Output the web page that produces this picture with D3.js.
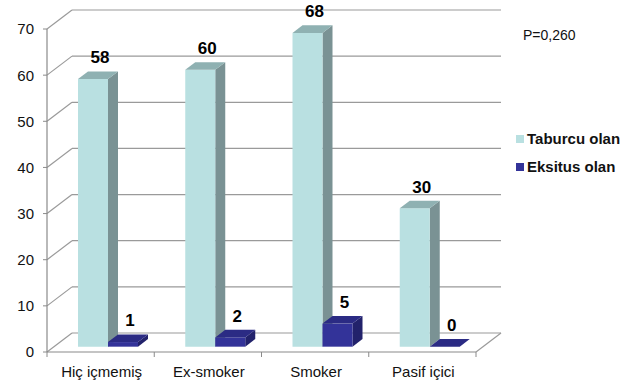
<!DOCTYPE html>
<html>
<head>
<meta charset="utf-8">
<script src="https://cdn.jsdelivr.net/npm/d3@7/dist/d3.min.js"></script>
<style>
  body { margin: 0; background: #fff; }
  svg { display: block; font-family: "Liberation Sans", Arial, sans-serif; }
</style>
</head>
<body>
<script>
const categories = ["Hiç içmemiş", "Ex-smoker", "Smoker", "Pasif içici"];
const taburcu = [58, 60, 68, 30];
const eksitus = [1, 2, 5, 0];
const seriesNames = ["Taburcu olan", "Eksitus olan"];
const yTicks = [0, 10, 20, 30, 40, 50, 60, 70];
const pText = "P=0,260";

const W = 621, H = 381;
const svg = d3.select("body").append("svg").attr("width", W).attr("height", H);

// front plane scales, depth goes back by (dx, dy)
const xScale = d3.scaleBand().domain(categories).range([47, 476]);
const yScale = d3.scaleLinear().domain([0, 70]).range([352, 29]);
const depthX = 25, depthY = -19;
const d0 = 0.28, d1 = 0.68; // bar depth span
const barW = 30, barOff = 24;

const P = (x, y, d) => [x + d * depthX, y + d * depthY];
const poly = pts => pts.map(p => p.join(",")).join(" ");

const grid = "#9a9a9a";

// back wall gridlines
svg.selectAll("line.grid").data(yTicks).enter().append("line")
  .attr("x1", d => P(47, yScale(d), 1)[0])
  .attr("x2", d => P(476, yScale(d), 1)[0])
  .attr("y1", d => P(47, yScale(d), 1)[1])
  .attr("y2", d => P(476, yScale(d), 1)[1])
  .style("stroke", grid).style("stroke-width", 1.2);

// side wall diagonals
svg.selectAll("line.diag").data(yTicks).enter().append("line")
  .attr("x1", 47).attr("y1", d => yScale(d))
  .attr("x2", d => P(47, yScale(d), 1)[0])
  .attr("y2", d => P(47, yScale(d), 1)[1])
  .style("stroke", grid).style("stroke-width", 1.2);

// floor right edge
svg.append("line")
  .attr("x1", 476).attr("y1", yScale(0))
  .attr("x2", P(476, yScale(0), 1)[0]).attr("y2", P(476, yScale(0), 1)[1])
  .style("stroke", grid).style("stroke-width", 1.2);

// bars
const colors = [
  { front: "#b9e0e1", side: "#7a9294", top: "#8fb1b2" },
  { front: "#333399", side: "#22226b", top: "#2b2b84" }
];

function drawBar(x0, v, c) {
  const yb = yScale(0), yt = yScale(v);
  const x1 = x0 + barW;
  const ft = P(x0, yt, d0);
  const g = svg.append("g");
  // side
  g.append("polygon").attr("points", poly([
    P(x1, yb, d0), P(x1, yt, d0), P(x1, yt, d1), P(x1, yb, d1)
  ])).style("fill", c.side);
  // front
  g.append("polygon").attr("points", poly([
    P(x0, yb, d0), P(x1, yb, d0), P(x1, yt, d0), P(x0, yt, d0)
  ])).style("fill", c.front);
  // top
  g.append("polygon").attr("points", poly([
    P(x0, yt, d0), P(x1, yt, d0), P(x1, yt, d1), P(x0, yt, d1)
  ])).style("fill", c.top);
  // value label
  g.append("text")
    .attr("x", (ft[0] + P(x1, yt, d1)[0]) / 2 + 2)
    .attr("y", P(x0, yt, d1)[1] - 8)
    .attr("text-anchor", "middle")
    .style("font-size", "17px").style("font-weight", "bold").style("fill", "#000")
    .text(v);
}

categories.forEach((cat, i) => {
  const x0 = xScale(cat) + barOff;
  drawBar(x0, taburcu[i], colors[0]);
  drawBar(x0 + barW, eksitus[i], colors[1]);
});

// front axis lines
const axisCol = "#8a8a8a";
svg.append("line").attr("x1", 47).attr("x2", 47)
  .attr("y1", yScale(70)).attr("y2", yScale(0))
  .style("stroke", axisCol).style("stroke-width", 1.2);
svg.append("line").attr("x1", 47).attr("x2", 476)
  .attr("y1", yScale(0)).attr("y2", yScale(0))
  .style("stroke", axisCol).style("stroke-width", 1.2);

// y ticks + labels
const yAx = svg.append("g").selectAll("g").data(yTicks).enter().append("g")
  .attr("transform", d => `translate(47,${yScale(d)})`);
yAx.append("line").attr("x1", -4).attr("x2", 0).style("stroke", axisCol);
yAx.append("text").attr("x", -13).attr("dy", "0.36em")
  .attr("text-anchor", "end").style("font-size", "15px").style("fill", "#111")
  .text(d => d);

// x ticks + labels
const xEdges = categories.map(c => xScale(c)).concat([xScale.range()[1]]);
svg.selectAll("line.xt").data(xEdges).enter().append("line")
  .attr("x1", d => d).attr("x2", d => d)
  .attr("y1", yScale(0)).attr("y2", yScale(0) + 5)
  .style("stroke", axisCol);
svg.selectAll("text.xl").data(categories).enter().append("text")
  .attr("x", d => xScale(d) + xScale.bandwidth() / 2 + 1)
  .attr("y", 377)
  .attr("text-anchor", "middle").style("font-size", "15px").style("fill", "#111")
  .text(d => d);

// legend
const leg = svg.append("g").attr("transform", "translate(516,139)");
seriesNames.forEach((s, i) => {
  leg.append("rect").attr("x", 0).attr("y", i * 28 - 4).attr("width", 8).attr("height", 8)
    .style("fill", colors[i].front);
  leg.append("text").attr("x", 11).attr("y", i * 28).attr("dy", "0.36em")
    .style("font-size", "15px").style("font-weight", "bold").style("fill", "#111")
    .text(s);
});

// p value
svg.append("text").attr("x", 523).attr("y", 35).attr("dy", "0.36em")
  .style("font-size", "14px").style("fill", "#111").text(pText);
</script>
</body>
</html>
